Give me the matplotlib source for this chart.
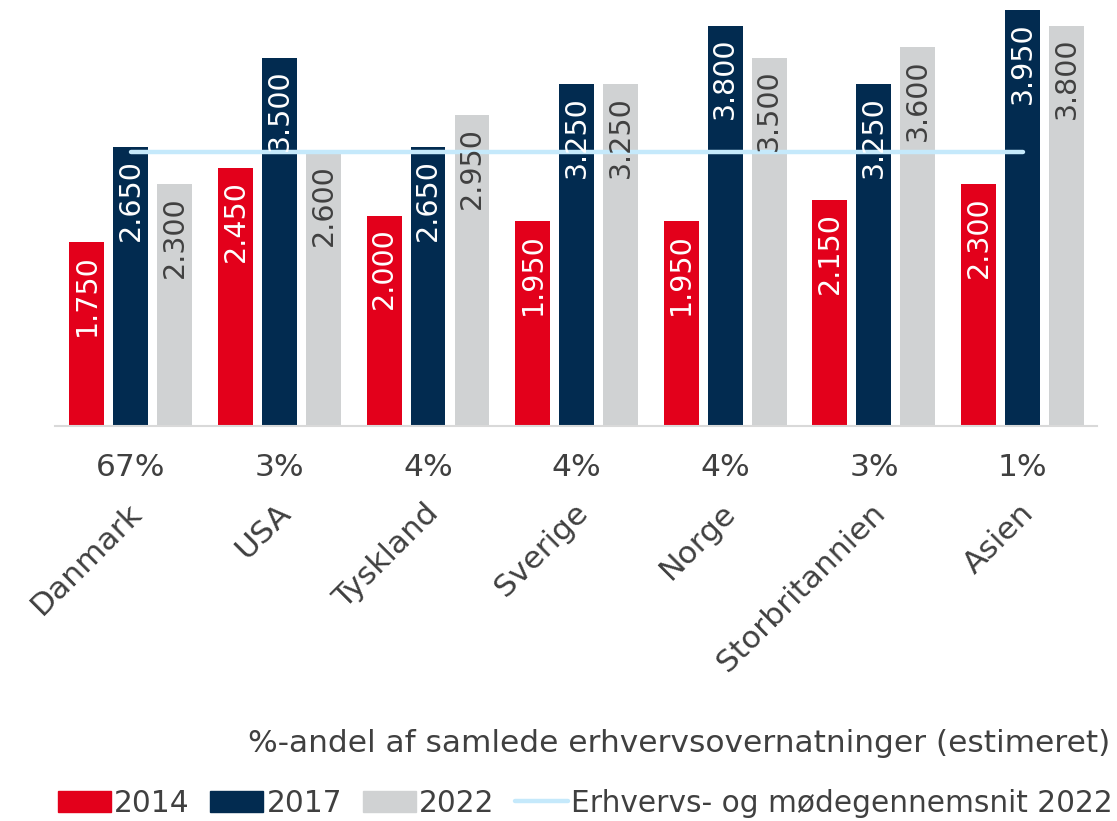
import numpy as np
import matplotlib
matplotlib.use("Agg")
import matplotlib.pyplot as plt
from matplotlib.patches import Patch
from matplotlib.lines import Line2D

categories = ["Danmark", "USA", "Tyskland", "Sverige", "Norge", "Storbritannien", "Asien"]
shares = ["67%", "3%", "4%", "4%", "4%", "3%", "1%"]
v2014 = [1750, 2450, 2000, 1950, 1950, 2150, 2300]
v2017 = [2650, 3500, 2650, 3250, 3800, 3250, 3950]
v2022 = [2300, 2600, 2950, 3250, 3500, 3600, 3800]
avg_2022 = 2600

red = "#e3001b"
navy = "#022b50"
grey = "#d0d2d3"
lightblue = "#c5e9fb"
textc = "#404040"

plt.rcParams["font.family"] = ["DejaVu Sans"]
fs = 22.5
fs_bar = 20.5

fig = plt.figure(figsize=(11.17, 8.21), dpi=100)
ax = fig.add_axes([0.0492, 0.481, 0.9328, 0.513])

x = np.arange(len(categories))
w = 0.235
off = 0.296

series = [(v2014, red, "white", -off), (v2017, navy, "white", 0), (v2022, grey, textc, off)]
for vals, col, tcol, dx in series:
    bars = ax.bar(x + dx, vals, width=w, color=col, zorder=2)
    for b, v in zip(bars, vals):
        lab = f"{v/1000:.3f}"
        ax.annotate(lab, (b.get_x() + b.get_width() / 2, v), xytext=(0, -12),
                    textcoords="offset pixels", rotation=90, ha="center", va="top",
                    color=tcol, fontsize=fs_bar, zorder=4)

ax.plot([x[0], x[-1]], [avg_2022, avg_2022], color=lightblue, lw=3.2,
        solid_capstyle="round", zorder=3)

ax.set_xlim(-0.51, 6.5)
ax.set_ylim(0, 4000)
for s in ["top", "right", "left"]:
    ax.spines[s].set_visible(False)
ax.spines["bottom"].set_color("#d9d9d9")
ax.spines["bottom"].set_linewidth(1.5)
ax.set_yticks([])
ax.set_xticks([])

for xi, sh, cat in zip(x, shares, categories):
    ax.annotate(sh, (xi, 0), xycoords=("data", "axes fraction"), xytext=(0, -41),
                textcoords="offset pixels", ha="center", va="center",
                color=textc, fontsize=fs)
    ax.annotate(cat, (xi, 0), xycoords=("data", "axes fraction"), xytext=(-4, -72),
                textcoords="offset pixels", ha="right", va="top", rotation=45,
                rotation_mode="anchor", color=textc, fontsize=fs)

fig.text(1110 / 1117, 1 - 743 / 821, "%-andel af samlede erhvervsovernatninger (estimeret)",
         ha="right", va="center", color=textc, fontsize=fs)

handles = [Patch(color=red), Patch(color=navy), Patch(color=grey),
           Line2D([], [], color=lightblue, lw=3.2, solid_capstyle="round")]
labels = ["2014", "2017", "2022", "Erhvervs- og mødegennemsnit 2022"]
leg = fig.legend(handles, labels, loc="center right", bbox_to_anchor=(1113 / 1117, 18 / 821),
                 ncol=4, frameon=False, fontsize=21.3, handlelength=1.8, handletextpad=0.1,
                 columnspacing=0.7, borderpad=0, borderaxespad=0)
for t in leg.get_texts():
    t.set_color(textc)

fig.savefig("out.png", dpi=100)
